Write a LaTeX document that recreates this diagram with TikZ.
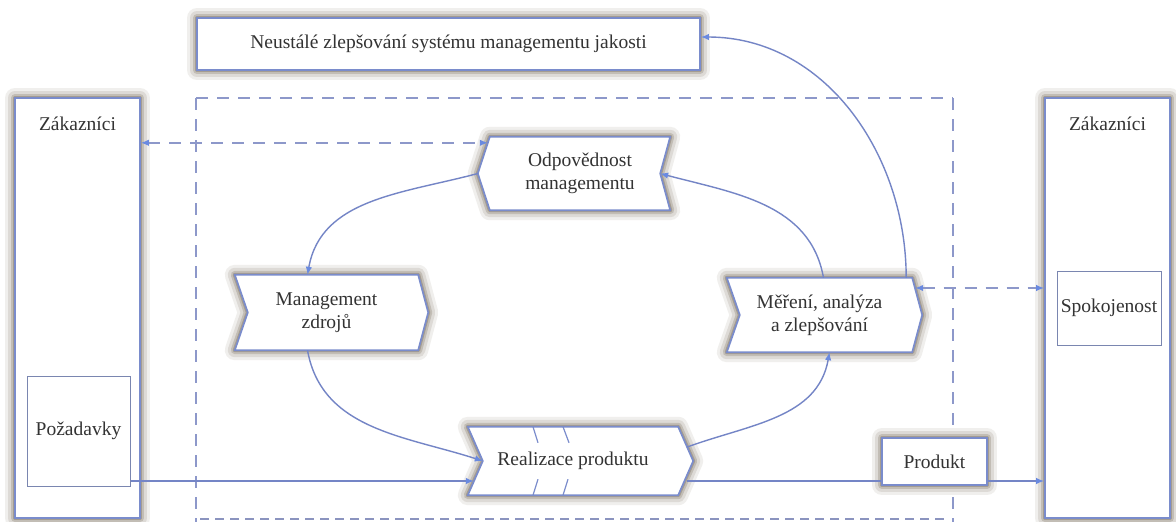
\documentclass[tikz,border=0pt]{standalone}
\usepackage{fontspec}
\setmainfont{Liberation Serif}
\usetikzlibrary{arrows.meta,backgrounds}
\definecolor{bord}{HTML}{7A8CCC}
\definecolor{conn}{HTML}{7485C6}
\definecolor{tipc}{HTML}{6A8AE0}
\definecolor{dsh}{HTML}{8D98CA}
\definecolor{txt}{HTML}{333333}
\definecolor{thin}{HTML}{7A86B0}
\definecolor{shc}{HTML}{857B6C}
\begin{document}
\begin{tikzpicture}[x=1pt,y=-1pt,
  every node/.style={font=\fontsize{19.5}{23}\selectfont,text=txt,inner sep=0pt},
  shd/.style={
    preaction={draw=shc!12,line width=20pt,line join=round},
    preaction={draw=shc!28,line width=14pt,line join=round},
    preaction={draw=shc!50,line width=8pt,line join=round},
    preaction={draw=shc!75,line width=4pt,line join=round}},
  bx/.style={draw=bord,line width=1.7pt,fill=white,shd},
  thinbox/.style={draw=thin,line width=1pt,fill=white},
  lbl/.style={align=center},
  cn/.style={draw=conn,line width=1.4pt},
  tip/.style={-{Latex[length=8pt,width=6.5pt,color=tipc]}},
  dtips/.style={{Latex[length=8pt,width=6.5pt,color=tipc]}-{Latex[length=8pt,width=6.5pt,color=tipc]}},
  dl/.style={draw=dsh,line width=1.4pt,dash pattern=on 12pt off 9pt},
  dlb/.style={draw=dsh!85!gray,line width=2.6pt,dash pattern=on 9pt off 6pt},
  brk/.style={draw=bord,line width=1.2pt},
]
\useasboundingbox (0,0) rectangle (1176,522);

\begin{scope}[on background layer]
  \fill[white] (0,0) rectangle (1176,522);
\end{scope}

% rectangular boxes
\node[bx,minimum width=503,minimum height=52] (top) at (448.5,44) {Neustálé zlepšování systému managementu jakosti};
\node[bx,minimum width=125,minimum height=420] (zl) at (77.5,308) {};
\node (zlt) at (77.5,124) {Zákazníci};
\node[thinbox,minimum width=103,minimum height=110] (pz) at (78.5,431) {Požadavky};
\node[bx,minimum width=125,minimum height=420] (zr) at (1107.5,308) {};
\node (zrt) at (1107.5,124) {Zákazníci};
\node[thinbox,minimum width=104,minimum height=74] (sp) at (1109,308) {Spokojenost};

% chevron labels
\node[lbl,minimum width=180,minimum height=73] (odp) at (580,173.5) {Odpovědnost\\managementu};
\node[lbl,minimum width=183,minimum height=75] (mz) at (326.5,312.5) {Management\\zdrojů};
\node[lbl,minimum width=185,minimum height=74] (mm) at (819.5,315) {Měření, analýza\\a zlepšování};
\node[lbl,minimum width=210,minimum height=68] (rp) at (573,461) {Realizace produktu};

\begin{scope}[on background layer]
  % dashed frame
  \draw[dl] (196,98) -- (953,98);
  \draw[dl] (196,98) -- (196,522);
  \draw[dl] (953,98) -- (953,522);
  \draw[dlb] (200,519) -- (948,519);
  % chevron outlines
  \draw[bx] (odp.north west) -- (odp.north east) -- ([xshift=-10pt]odp.east) -- (odp.south east) -- (odp.south west) -- ([xshift=-12pt]odp.west) -- cycle;
  \draw[bx] (mz.north west) -- (mz.north east) -- ([xshift=10pt]mz.east) -- (mz.south east) -- (mz.south west) -- ([xshift=13pt]mz.west) -- cycle;
  \draw[bx] (mm.north west) -- (mm.north east) -- ([xshift=10pt]mm.east) -- (mm.south east) -- (mm.south west) -- ([xshift=13pt]mm.west) -- cycle;
  \draw[bx] (rp.north west) -- (rp.north east) -- ([xshift=15pt]rp.east) -- (rp.south east) -- (rp.south west) -- ([xshift=15pt]rp.west) -- cycle;
\end{scope}

\node[bx,minimum width=105,minimum height=47] (pr) at (934.5,461.5) {Produkt};

% break marks in Realizace produktu
\draw[brk] ([xshift=-40pt]rp.north) -- ([xshift=-35pt,yshift=-16pt]rp.north);
\draw[brk] ([xshift=-10pt]rp.north) -- ([xshift=-4pt,yshift=-16pt]rp.north);
\draw[brk] ([xshift=-40pt]rp.south) -- ([xshift=-35pt,yshift=16pt]rp.south);
\draw[brk] ([xshift=-10pt]rp.south) -- ([xshift=-5pt,yshift=16pt]rp.south);

% anchor coordinates
\coordinate (odpA) at ([xshift=-2pt,yshift=-6pt]odp.north west);
\coordinate (odpP) at ([xshift=-12pt]odp.west);
\coordinate (odpN) at ([xshift=-10pt]odp.east);
\coordinate (rpN) at ([xshift=15pt]rp.west);
\coordinate (rpE) at ([xshift=9pt,yshift=14pt]rp.east);
\coordinate (rpL) at ([xshift=6pt,yshift=-20pt]rp.west);
\coordinate (rpR) at ([xshift=9pt,yshift=-20pt]rp.east);
\coordinate (mmR) at ([xshift=3pt,yshift=27pt]mm.east);

% connectors
\draw[dl,dtips] (zl.east |- odpA) -- (odpA);
\draw[dl,dtips] (mmR) -- (zr.west |- mmR);
\draw[cn,tip] (odpP) to[out=195,in=80] ([xshift=-19pt]mz.north);
\draw[cn,tip] ([xshift=-19pt]mz.south) to[out=-80,in=162] (rpN);
\draw[cn,tip] (rpE) to[out=20,in=-100] ([xshift=10pt]mm.south);
\draw[cn,tip] ([xshift=4pt]mm.north) to[out=100,in=-15] (odpN);
\draw[cn,tip] ([xshift=-6pt]mm.north east) to[out=90,in=0] ([yshift=7pt]top.east);
\draw[cn,tip] (pz.east |- rpL) -- (rpL);
\draw[cn] (rpR) -- (pr.west |- rpR);
\draw[cn,tip] (pr.east |- rpR) -- (zr.west |- rpR);
\end{tikzpicture}
\end{document}
